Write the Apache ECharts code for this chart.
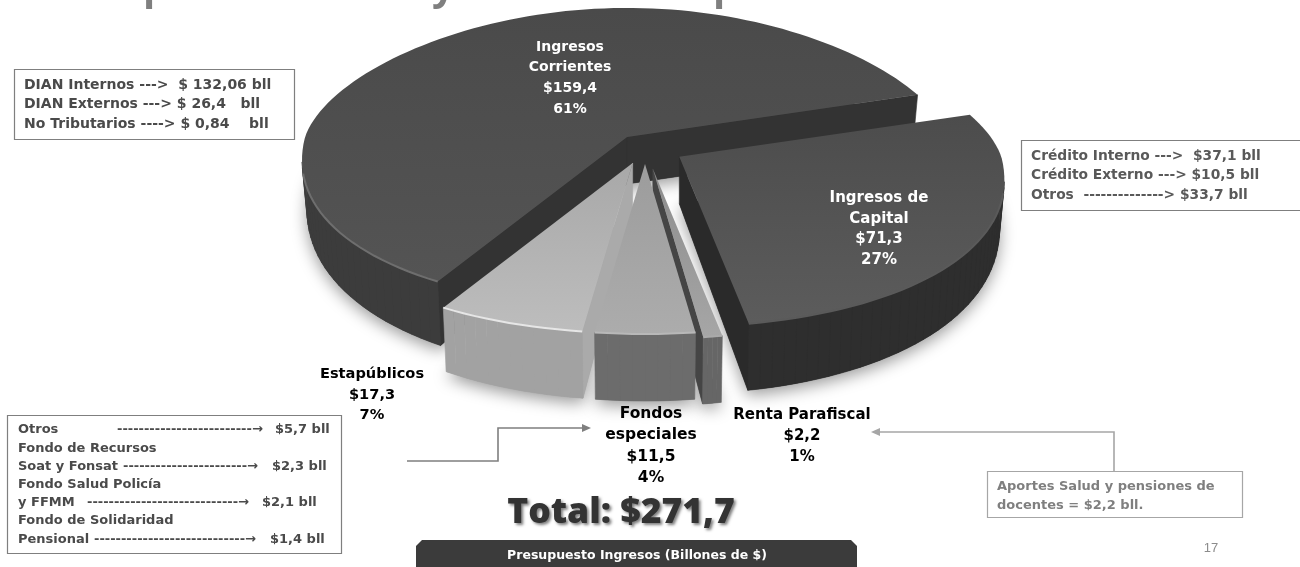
<!DOCTYPE html>
<html><head><meta charset="utf-8">
<style>html,body{margin:0;padding:0;background:#fff}#c{width:1300px;height:567px}</style>
<script src="https://cdn.jsdelivr.net/npm/echarts@6/dist/echarts.min.js"></script>
</head><body><div id="c"></div>
<script>
// ---- data (clockwise from the front-left edge of the pie)
const sliceNames   = ['Ingresos\nCorrientes', 'Ingresos de\nCapital', 'Renta Parafiscal', 'Fondos\nespeciales', 'Estapúblicos'];
const sliceValues  = [159.4, 71.3, 2.2, 11.5, 17.3];
const slicePercent = [61, 27, 1, 4, 7];
const totalText    = 'Total: $271,7';
const barTitle     = 'Presupuesto Ingresos (Billones de $)';
const boxCorrientes = ['DIAN Internos --->  $ 132,06 bll','DIAN Externos ---> $ 26,4   bll','No Tributarios ----> $ 0,84    bll'];
const boxCapital    = ['Crédito Interno --->  $37,1 bll','Crédito Externo ---> $10,5 bll','Otros  --------------> $33,7 bll'];
const boxFondos = [
  ['Otros','-------------------------→','$5,7 bll'],
  ['Fondo de Recursos','',''],
  ['Soat y Fonsat','-----------------------→','$2,3 bll'],
  ['Fondo Salud Policía','',''],
  ['y FFMM','----------------------------→','$2,1 bll'],
  ['Fondo de Solidaridad','',''],
  ['Pensional','----------------------------→','$1,4 bll']];
const boxRenta = ['Aportes Salud y pensiones de','docentes = $2,2 bll.'];

// ---- look of the exploded 3D pie (style only)
const startDeg = 238.3, cx = 645, cy = 147, rx = 322, ryBack = 129, ryFront = 170, persp = 0.14;
const explode = [0.1, 0.115, 0.13, 0.1, 0.1];
const topFill = [['#4a4a4a','#545454'],['#4c4c4c','#5c5c5c'],['#8c8c8c','#a6a6a6'],['#9c9c9c','#acacac'],['#a8a8a8','#bdbdbd']];
const sideFill = ['#3c3c3c','#2e2e2e','#666666','#6c6c6c','#a2a2a2'];
const cutFill  = ['#333333','#2a2a2a','#454545','#9a9a9a','#aaaaaa'];
const rimFill  = ['#6e6e6e','#5a5a5a','#aaaaaa','#b8b8b8','#e6e6e6'];
const drawRank = [0, 1, 3, 4, 2];
const labelAt  = [[570,78],[879,229],[802,436],[651,446],[372,395]];
const labelInk = ['#ffffff','#ffffff','#000000','#000000','#000000'];
const labelSize = [14,15,15,15.5,14.6];
const FONT = '"DejaVu Sans", sans-serif';

const total = sliceValues.reduce((a,b)=>a+b,0);
const comma = v => String(v).replace('.',',');
function angleOf(sum){ return echarts.number.linearMap(sum,[0,total],[startDeg,startDeg-360],false)*Math.PI/180; }

function renderSlice(params, api){
  const i = params.dataIndex, v = api.value(0);
  let before = 0; for(let k=0;k<i;k++) before += sliceValues[k];
  const a0 = angleOf(before), a1 = angleOf(before+v), mid=(a0+a1)/2;
  const rank = drawRank[i]*100+10;
  const local = (r,t)=>{const s=Math.sin(t),c=Math.cos(t);return [rx*r*c*(1-persp*s), -r*(s>0?ryBack:ryFront)*s];};
  const off = local(explode[i],mid), ax=cx+off[0], ay=cy+off[1];
  const pts=[[ax,ay]];
  const n=Math.max(4,Math.ceil(Math.abs(a1-a0)/(2*Math.PI/180)));
  for(let k=0;k<=n;k++){const p=local(1,a0+(a1-a0)*k/n);pts.push([ax+p[0],ay+p[1]]);}
  const low=p=>{const f=Math.max(0,Math.min(1,(p[1]-ay)/ryFront));return [ax+(p[0]-ax)*0.985,p[1]+47+20*f];};
  const kids=[];
  kids.push({type:'polygon',z2:1,shape:{points:pts.map(low)},style:{fill:sideFill[i],shadowBlur:16,shadowColor:'rgba(0,0,0,0.4)',shadowOffsetY:5}});
  const m=pts.length;
  for(let k=0;k<m;k++){
    const p=pts[k],q=pts[(k+1)%m];
    const dx=q[0]-p[0];
    if(dx>=0) continue;
    const isCut=(k===0||k===m-1);
    const col=isCut?cutFill[i]:sideFill[i];
    kids.push({type:'polygon',z2:rank+(isCut?1:2),shape:{points:[p,q,low(q),low(p)]},style:{fill:col,stroke:col,lineWidth:0.6}});
  }
  kids.push({type:'polygon',z2:rank+5,shape:{points:pts},style:{fill:{type:'linear',x:0,y:0,x2:0,y2:1,colorStops:[{offset:0,color:topFill[i][0]},{offset:1,color:topFill[i][1]}]}}});
  const rim=pts.slice(1).filter((p,k)=>Math.sin(a0+(a1-a0)*k/n)<-0.2);
  if(rim.length>1) kids.push({type:'polyline',z2:rank+6,shape:{points:rim},style:{fill:null,stroke:rimFill[i],lineWidth:2}});
  const txt=sliceNames[i]+'\n$'+comma(v)+'\n'+slicePercent[i]+'%';
  kids.push({type:'text',z2:5000,x:labelAt[i][0],y:labelAt[i][1],style:{text:txt,fill:labelInk[i],align:'center',verticalAlign:'middle',lineHeight:i===3?21.5:20.7,fontFamily:FONT,fontWeight:700,fontSize:labelSize[i]}});
  return {type:'group',children:kids};
}

function box(x,y,w,h,stroke){return {type:'rect',z:5,shape:{x,y,width:w,height:h},style:{fill:'#fff',stroke:stroke||'#7f7f7f',lineWidth:1.2}};}
function line(x,y,t,col,size,align){return {type:'text',z:6,x,y,style:{text:t,fill:col,fontFamily:FONT,fontWeight:700,fontSize:size||14,align:align||'left',verticalAlign:'middle'}};}
const g=[];
[['p',143],['y',432],['p',713]].forEach(d=>g.push({type:'text',z:1,x:d[1],y:-31,style:{text:d[0],fill:'#7f7f7f',fontFamily:'"Open Sans", sans-serif',fontWeight:700,fontSize:40}}));
g.push(box(14.5,69.5,280,70));
boxCorrientes.forEach((t,k)=>g.push(line(24,85+k*19.6,t,'#4a4a4a')));
g.push(box(1021.5,140.5,290,70));
boxCapital.forEach((t,k)=>g.push(line(1031,156+k*19.6,t,'#595959',13.8)));
g.push(box(7.5,415.5,334,138));
const xMid=[117,0,123,0,87,0,94], xVal=[275,0,272,0,262,0,270];
boxFondos.forEach((r,k)=>{
  const y=430+k*18.2;
  g.push(line(18,y,r[0],'#4a4a4a',13));
  if(r[1]){g.push(line(xMid[k],y,r[1],'#4a4a4a',13));g.push(line(xVal[k],y,r[2],'#4a4a4a',13));}
});
g.push({type:'polyline',z:4,shape:{points:[[407,461],[498,461],[498,428],[584,428]]},style:{stroke:'#7f7f7f',lineWidth:1.6,fill:null}});
g.push({type:'polygon',z:4,shape:{points:[[591,428],[582,424],[582,432]]},style:{fill:'#7f7f7f'}});
g.push({type:'polyline',z:4,shape:{points:[[1114,471],[1114,432],[878,432]]},style:{stroke:'#a6a6a6',lineWidth:1.6,fill:null}});
g.push({type:'polygon',z:4,shape:{points:[[871,432],[880,428],[880,436]]},style:{fill:'#a6a6a6'}});
g.push(box(987.5,471.5,255,46,'#a6a6a6'));
boxRenta.forEach((t,k)=>g.push(line(997,487+k*18.5,t,'#7f7f7f',13)));
g.push({type:'polygon',z:3,shape:{points:[[422,540],[851,540],[857,546],[857,567],[416,567],[416,546]]},style:{fill:'#3b3b3b'}});
g.push({type:'text',z:6,x:637,y:556,style:{text:barTitle,fill:'#fff',fontFamily:FONT,fontWeight:700,fontSize:12.5,align:'center',verticalAlign:'middle'}});
g.push({type:'text',z:6,x:621,y:513,style:{text:totalText,fill:'#333',fontFamily:'"Open Sans", sans-serif',fontWeight:800,fontSize:35.5,align:'center',verticalAlign:'middle',textShadowColor:'rgba(0,0,0,0.5)',textShadowBlur:3,textShadowOffsetX:2,textShadowOffsetY:2}});
g.push({type:'text',z:6,x:1211,y:548,style:{text:'17',fill:'#8c8c8c',fontFamily:'"Liberation Sans", sans-serif',fontSize:13,align:'center',verticalAlign:'middle'}});

const chart=echarts.init(document.getElementById('c'),null,{renderer:'canvas'});
chart.setOption({
  animation:false,backgroundColor:'#fff',
  graphic:{elements:g},
  series:[{type:'custom',coordinateSystem:'none',silent:true,renderItem:renderSlice,data:sliceValues.map(v=>[v])}]
});
</script></body></html>
